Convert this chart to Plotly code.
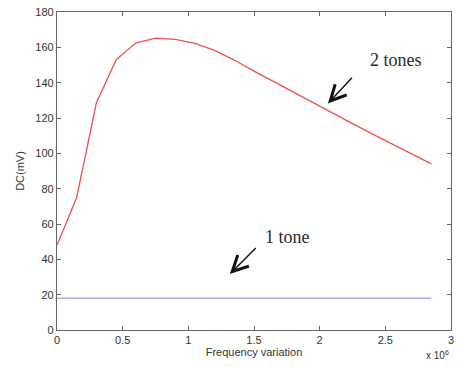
import plotly.graph_objects as go

freq_2tones = [0, 0.15, 0.3, 0.45, 0.6, 0.75, 0.9, 1.05, 1.2, 1.35, 1.5, 1.65, 1.8, 1.95, 2.1, 2.25, 2.4, 2.55, 2.7, 2.85]
dc_2tones = [48, 75, 128.6, 152.9, 162.4, 165.2, 164.5, 162.2, 158.3, 152.8, 146.5, 140.5, 134.8, 128.7, 122.5, 116.8, 111, 105.3, 99.6, 94]
freq_1tone = [0, 2.85]
dc_1tone = [18, 18]
xticks = [0, 0.5, 1, 1.5, 2, 2.5, 3]
xticklabels = ["0", "0.5", "1", "1.5", "2", "2.5", "3"]
yticks = [0, 20, 40, 60, 80, 100, 120, 140, 160, 180]

fig = go.Figure()
fig.add_trace(go.Scatter(x=freq_1tone, y=dc_1tone, mode="lines",
                         line=dict(color="#9c9cdc", width=1.2), showlegend=False))
fig.add_trace(go.Scatter(x=freq_2tones, y=dc_2tones, mode="lines",
                         line=dict(color="#f05050", width=1.3), showlegend=False))

axis_common = dict(showline=True, mirror="ticks", linecolor="#666666", linewidth=1.2,
                   ticks="inside", ticklen=4, tickcolor="#666666",
                   showgrid=False, zeroline=False,
                   tickfont=dict(family="Liberation Sans, Arial", size=11, color="#333333"))

fig.update_xaxes(range=[0, 3], tickvals=xticks, ticktext=xticklabels,
                 title=dict(text="Frequency variation", standoff=3,
                            font=dict(family="Liberation Sans, Arial", size=11, color="#333333")),
                 **axis_common)
fig.update_yaxes(range=[0, 180], tickvals=yticks,
                 title=dict(text="DC(mV)", standoff=8,
                            font=dict(family="Liberation Sans, Arial", size=11, color="#333333")),
                 **axis_common)

serif = dict(family="Liberation Serif, Times New Roman", size=18, color="#2a2a2a")
fig.add_annotation(x=2.583, y=153, text="2 tones", showarrow=False, font=serif)
fig.add_annotation(x=1.758, y=52.5, text="1 tone", showarrow=False, font=serif)
fig.add_annotation(x=2.063, y=128.2, ax=27, ay=-29, text=" ", showarrow=True,
                   arrowhead=5, arrowsize=2.2, arrowwidth=1.4, arrowcolor="#111111")
fig.add_annotation(x=1.316, y=31.7, ax=29, ay=-29, text=" ", showarrow=True,
                   arrowhead=5, arrowsize=2.2, arrowwidth=1.4, arrowcolor="#111111")
fig.add_annotation(xref="paper", yref="paper", x=1.0, y=0, xanchor="right", yanchor="top",
                   yshift=-17, text="x 10<sup>6</sup>", showarrow=False,
                   font=dict(family="Liberation Sans, Arial", size=10, color="#333333"))

fig.update_layout(width=460, height=367, margin=dict(l=57, r=6, t=10, b=37),
                  paper_bgcolor="white", plot_bgcolor="white")

fig.write_html("out.html")
